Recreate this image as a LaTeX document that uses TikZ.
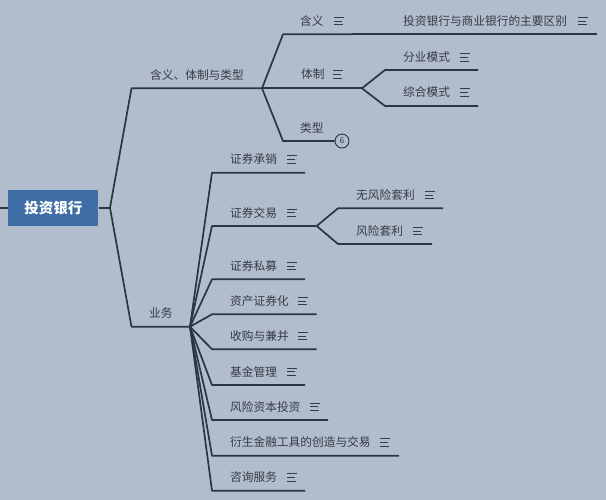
\documentclass[tikz,border=0pt]{standalone}
\usepackage{fontspec}
\setmainfont{Noto Sans CJK SC}
\definecolor{bg}{HTML}{B1BDCD}
\definecolor{ln}{HTML}{2B3544}
\definecolor{tx}{HTML}{363B44}
\definecolor{rootfill}{HTML}{3F6EA7}
\begin{document}
\begin{tikzpicture}[x=1pt,y=-1pt,
  conn/.style={draw=ln,line width=1.7pt,line join=round},
  lbl/.style={anchor=west,inner sep=0pt,text=tx,font=\fontsize{11.7}{14}\selectfont},
  rootbox/.style={fill=rootfill,minimum width=90pt,minimum height=36pt,inner sep=0pt,text=white,font=\fontsize{14.5}{17}\selectfont\bfseries},
  cnt/.style={circle,draw=ln,line width=0.9pt,fill=bg,minimum size=14pt,inner sep=0pt,text=tx,font=\fontsize{8}{9}\selectfont},
  noteic/.pic={\draw[draw=tx,line width=0.9pt] (0,-3.6) -- (10,-3.6) (0,0) -- (7.5,0) (0,3.6) -- (9,3.6);}
]
\fill[bg] (0,0) rectangle (606,500);
\useasboundingbox (0,0) rectangle (606,500);

% root
\node[rootbox] (root) at (53.3,207.8) {投资银行};
\coordinate (L0) at (0,207.8);
\coordinate (f0) at (110,207.8);
\draw[conn] (L0) -- (root.west);
\draw[conn] (root.east) -- (f0);

% branch A
\coordinate (a0) at (131.5,88.3);
\coordinate (fa) at (262,88.3);
\draw[conn] (f0) -- (a0) -- (fa);
\node[lbl] (tA) at (150,75) {含义、体制与类型};

% A1
\coordinate (a1s) at (283,34.3);
\coordinate (a1e) at (352,34.3);
\coordinate (a11e) at (597,34.3);
\draw[conn] (fa) -- (a1s) -- (a1e);
\draw[conn] (a1e) -- (a11e);
\node[lbl] (tA1) at (300,21) {含义};
\pic at (334,21) {noteic};
\node[lbl] (tA11) at (403,21) {投资银行与商业银行的主要区别};
\pic at (578,21) {noteic};

% A2
\coordinate (a2e) at (362,88.3);
\draw[conn] (fa) -- (a2e);
\node[lbl] (tA2) at (301,74.5) {体制};
\pic at (333,74.5) {noteic};
\coordinate (m1s) at (385,70);
\coordinate (m1e) at (478,70);
\coordinate (m2s) at (385,106);
\coordinate (m2e) at (478,106);
\draw[conn] (a2e) -- (m1s) -- (m1e);
\draw[conn] (a2e) -- (m2s) -- (m2e);
\node[lbl] (tM1) at (403,57.5) {分业模式};
\pic at (460,57.5) {noteic};
\node[lbl] (tM2) at (403,92.5) {综合模式};
\pic at (460,92.5) {noteic};

% A3
\coordinate (a3s) at (283,141);
\node[cnt] (c6) at (342,141) {6};
\draw[conn] (fa) -- (a3s) -- (c6.west);
\node[lbl] (tA3) at (300,128) {类型};

% branch B
\coordinate (b0) at (131.5,326.7);
\coordinate (fb) at (190,326.7);
\draw[conn] (f0) -- (b0) -- (fb);
\node[lbl] (tB) at (149,313) {业务};

% B children
\foreach \n/\y/\e/\t/\ix in {
  b1/172.7/305/证券承销/287,
  b2/226/316.7/证券交易/287,
  b3/279.3/305/证券私募/287,
  b4/314.3/316.7/资产证券化/298,
  b5/349.3/316.7/收购与兼并/298,
  b6/385/305/基金管理/287,
  b7/420/328/风险资本投资/310,
  b8/455.7/399/衍生金融工具的创造与交易/380,
  b9/490.7/305/咨询服务/287}{
  \coordinate (\n s) at (212,\y);
  \coordinate (\n e) at (\e,\y);
  \draw[conn] (fb) -- (\n s) -- (\n e);
  \node[lbl] (t\n) at (230,\y-13.3) {\t};
  \pic at (\ix,\y-13.3) {noteic};
}

% trade subs
\coordinate (s1s) at (338,208.3);
\coordinate (s1e) at (443,208.3);
\coordinate (s2s) at (338,244);
\coordinate (s2e) at (432,244);
\draw[conn] (b2e) -- (s1s) -- (s1e);
\draw[conn] (b2e) -- (s2s) -- (s2e);
\node[lbl] (tS1) at (356,195) {无风险套利};
\pic at (425,195) {noteic};
\node[lbl] (tS2) at (356,231) {风险套利};
\pic at (413,231) {noteic};
\end{tikzpicture}
\end{document}
